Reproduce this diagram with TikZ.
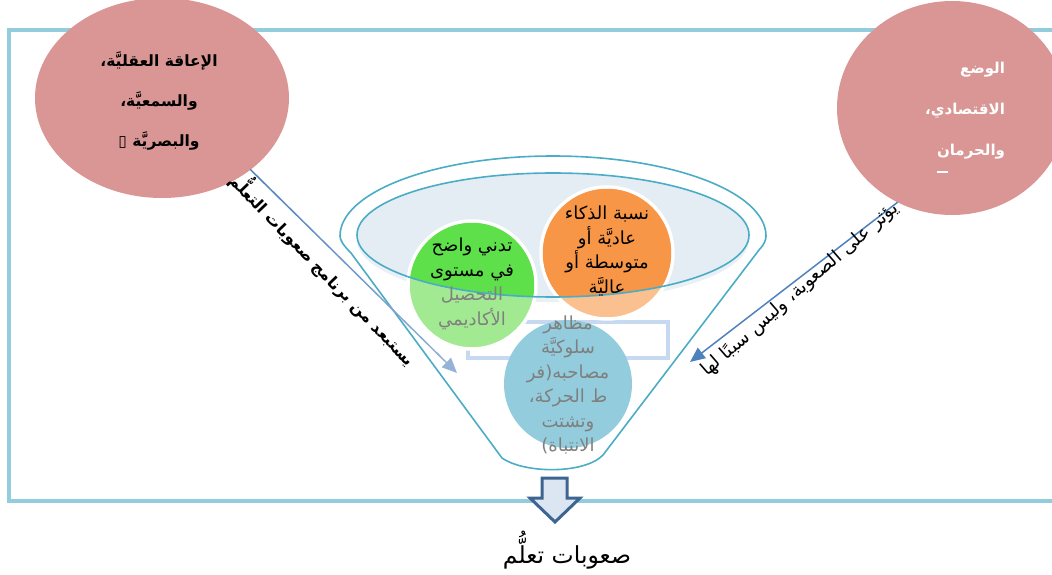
\documentclass[tikz,border=0pt]{standalone}
\usepackage{fontspec}
\usetikzlibrary{arrows.meta,calc,shapes.geometric}
\TeXXeTstate=1
\newfontfamily\arabicfont[Script=Arabic]{DejaVu Sans}
\newfontfamily\symfont{DejaVu Sans}
\newcommand{\ar}[1]{\beginR #1\endR}
\definecolor{framec}{HTML}{93CDDD}
\definecolor{pinkc}{HTML}{D99694}
\definecolor{tealc}{HTML}{4BACC6}
\definecolor{innerc}{HTML}{E4EDF3}
\definecolor{innersh}{HTML}{EAF0F5}
\definecolor{greendark}{HTML}{5EE04A}
\definecolor{greenlight}{HTML}{A2EA92}
\definecolor{orangedark}{HTML}{F79646}
\definecolor{orangelight}{HTML}{FAC090}
\definecolor{bluec}{HTML}{93CDDD}
\definecolor{grayt}{HTML}{7F7F7F}
\definecolor{arrdark}{HTML}{4F81BD}
\definecolor{arrlight}{HTML}{95B3D7}
\definecolor{rectc}{HTML}{C6D9F1}
\definecolor{blockc}{HTML}{3E6491}
\definecolor{blockfill}{HTML}{DCE6F2}
\begin{document}
\begin{tikzpicture}[x=1pt,y=-1pt,
  every node/.style={inner sep=0pt,outer sep=0pt},
  blob/.style={ellipse,fill=pinkc,draw=none},
  disc/.style={circle,draw=white,line width=3.5pt},
  ctext/.style={align=center,font=\arabicfont\fontsize{18}{24.5}\selectfont},
  etext/.style={font=\arabicfont\bfseries\fontsize{15.5}{40}\selectfont},
  tip/.style={-{Triangle[length=15pt,width=13pt]}}]
\useasboundingbox (0,0) rectangle (1052,575);
% frame
\draw[framec,line width=4pt] (9,30) rectangle (1075,501);
% side ellipses
\node[blob,minimum width=254,minimum height=200] (lefte) at (162,98) {};
\node[etext,align=center] (ltext) at (159,101)
  {\ar{الإعاقة العقليَّة،}\\\ar{والسمعيَّة،}\\\ar{والبصريَّة {\symfont ▯}}};
\node[blob,minimum width=230,minimum height=214] (righte) at (952,108) {};
\node[etext,align=right,anchor=east,text=white,font=\arabicfont\bfseries\fontsize{15}{41}\selectfont] (rtext) at (1005,111)
  {\ar{الوضع}\\\ar{الاقتصادي،}\\\ar{والحرمان}};
\draw[white,line width=1.2pt] (937,172) -- (948,172);
% funnel
\fill[innersh] (553,240) ellipse [x radius=196,y radius=62];
\fill[innerc] (553,235) ellipse [x radius=196,y radius=62];
\draw[tealc,line width=1.6pt] (502,458) -- (351,253)
  .. controls (343,245) and (340,240) .. (340,236)
  arc[start angle=180,end angle=360,x radius=213,y radius=80]
  .. controls (766,240) and (764,245) .. (759,250)
  -- (603,455) .. controls (585,474) and (525,474) .. (502,458);
% pale rectangle
\draw[rectc,line width=3.5pt] (468,322) rectangle (668,358);
% circles
\node[disc,fill=greenlight,minimum size=128] (gc) at (472,285) {};
\node[disc,fill=orangelight,minimum size=132] (oc) at (607,253) {};
\begin{scope}
  \clip (553,235) ellipse [x radius=196,y radius=62];
  \fill[greendark] (gc.center) circle[radius=62.2];
  \fill[orangedark] (oc.center) circle[radius=64.2];
\end{scope}
\node[circle,fill=bluec,minimum size=128] (bc) at (568,384) {};
\draw[tealc,line width=1.6pt] (553,235) ellipse [x radius=196,y radius=62];
% circle texts
\node[ctext] (gt) at (472,284)
  {\ar{تدني واضح}\\\ar{في مستوى}\\\textcolor{grayt}{\ar{التحصيل}}\\\textcolor{grayt}{\ar{الأكاديمي}}};
\node[ctext] (ot) at (607,251)
  {\ar{نسبة الذكاء}\\\ar{عاديَّة أو}\\\ar{متوسطة أو}\\\ar{عاليَّة}};
\node[ctext,text=grayt] (bt) at (568,385)
  {\ar{مظاهر}\\\ar{سلوكيَّة}\\\ar{مصاحبه(فر}\\\ar{ط الحركة،}\\\ar{وتشتت}\\\ar{الانتباة)}};
% left connector (gradient)
\coordinate (lb) at (457,373);
\foreach \i in {0,...,10}{
  \pgfmathsetmacro{\s}{\i/12}
  \pgfmathsetmacro{\e}{(\i+1)/12}
  \pgfmathsetmacro{\p}{100*\i/11}
  \draw[arrlight!\p!arrdark,line width=1.5pt,line cap=round]
    ($(lefte.-39.3)!\s!(lb)$) -- ($(lefte.-39.3)!\e!(lb)$);
}
\draw[arrlight,line width=1.5pt,tip] ($(lefte.-39.3)!0.9!(lb)$) -- (lb);
\node[font=\arabicfont\bfseries\fontsize{16}{18}\selectfont,rotate=-46] (lt) at (325,268)
  {\ar{يستبعد من برنامج صعوبات التعلُّم}};
% right connector
\coordinate (rb) at (690,362);
\draw[arrdark,line width=1.5pt,tip] (righte.-120) -- (rb);
\node[font=\arabicfont\fontsize{18.5}{20}\selectfont,rotate=41] (rt) at (800,290)
  {\ar{يؤثر على الصعوبة، وليس سببًا لها}};
% block arrow and result
\draw[blockc,fill=blockfill,line width=3pt,line join=miter]
  (542,478) -- (567,478) -- (567,498) -- (580,498) -- (555,522) -- (530,498) -- (542,498) -- cycle;
\node[font=\arabicfont\fontsize{23.5}{26}\selectfont] (res) at (567,550) {\ar{صعوبات تعلُّم}};
\end{tikzpicture}
\end{document}
